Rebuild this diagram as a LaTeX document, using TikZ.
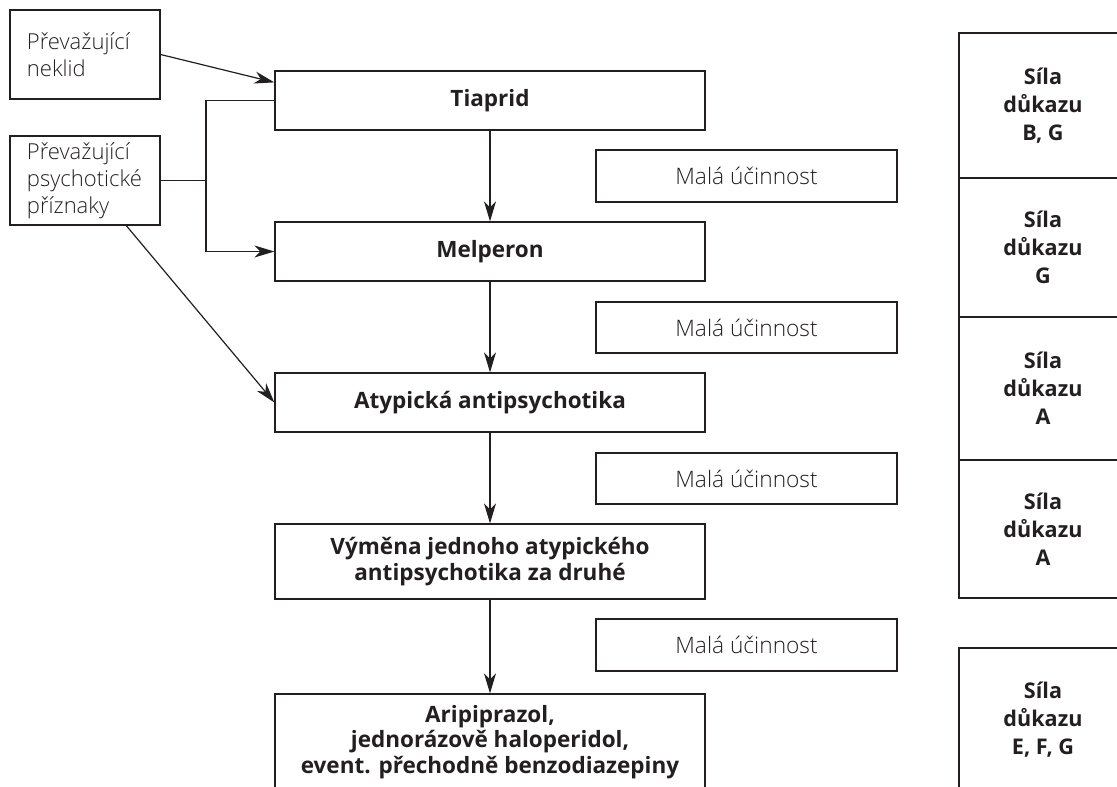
\documentclass[tikz,border=0pt]{standalone}
\usepackage{fontspec}
\setmainfont{Open Sans}
\newfontfamily\lightfont{Open Sans}[UprightFont={* Light}]
\usetikzlibrary{arrows.meta,calc}
\definecolor{ink}{RGB}{35,31,32}
\begin{document}
\begin{tikzpicture}[x=1pt,y=-1pt,
  box/.style={draw=ink, line width=1.2pt, rectangle, inner sep=0pt, text=ink},
  stepbox/.style={box, minimum width=430pt, align=center,
    font=\bfseries\fontsize{22.5}{25.5}\selectfont},
  cause/.style={box, minimum width=150pt, minimum height=89pt, align=left,
    text width=116pt, font=\lightfont\fontsize{22}{27}\selectfont},
  note/.style={box, minimum width=301pt, font=\lightfont\fontsize{22.7}{25}\selectfont},
  grade/.style={box, minimum width=168pt, align=center,
    font=\bfseries\fontsize{21.6}{28}\selectfont},
  link/.style={draw=ink, line width=1.2pt},
  arr/.style={link, -{Stealth[length=20pt,width=12pt,inset=6pt]}}]
\useasboundingbox (0,0) rectangle (1117,787);
\clip (0,0) rectangle (1117,787);

% starting conditions
\node[cause] (neklid) at (85,54.5) {Převažující\\neklid};
\node[cause] (psych) at (85,180.5) {Převažující\\psychotické\\příznaky};

% treatment steps
\node[stepbox, minimum height=59pt] (tia) at (490,100.5) {Tiaprid};
\node[stepbox, minimum height=59pt] (mel) at (490,251.5) {Melperon};
\node[stepbox, minimum height=59pt] (aty) at (490,402.5) {Atypická antipsychotika};
\node[stepbox, minimum height=75pt] (vym) at (490,561.5) {Výměna jednoho atypického\\antipsychotika za druhé};
\node[stepbox, minimum height=96pt] (ari) at (490,742) {Aripiprazol,\\jednorázově haloperidol,\\event. přechodně benzodiazepiny};

% low efficacy notes
\node[note, minimum height=52pt] (m1) at (746.5,176) {Malá účinnost};
\node[note, minimum height=51pt] (m2) at (746.5,327.5) {Malá účinnost};
\node[note, minimum height=51pt] (m3) at (746.5,478.5) {Malá účinnost};
\node[note, minimum height=52pt] (m4) at (746.5,645) {Malá účinnost};

% evidence grades
\node[grade, minimum height=145pt] (s1) at (1043,105.5) {Síla\\důkazu\\B, G};
\node[grade, minimum height=139pt] (s2) at (1043,247.5) {Síla\\důkazu\\G};
\node[grade, minimum height=143pt] (s3) at (1043,388.5) {Síla\\důkazu\\A};
\node[grade, minimum height=138pt] (s4) at (1043,529) {Síla\\důkazu\\A};
\node[grade, minimum height=144pt] (s5) at (1043,720) {Síla\\důkazu\\E, F, G};

% main sequence
\draw[arr] (tia) -- (mel);
\draw[arr] (mel) -- (aty);
\draw[arr] (aty) -- (vym);
\draw[arr] (vym) -- (ari);

% entry connectors
\draw[arr] (neklid.east) -- ($(tia.north west)+(0,12)$);
\coordinate (fork) at (206,180.5);
\draw[link] (psych.east) -- (fork);
\draw[link] (tia.west) -| (fork);
\draw[arr] (fork) |- (mel.west);
\draw[arr] ($(psych.south west)!0.773!(psych.south east)$) -- (aty.west);
\end{tikzpicture}
\end{document}
